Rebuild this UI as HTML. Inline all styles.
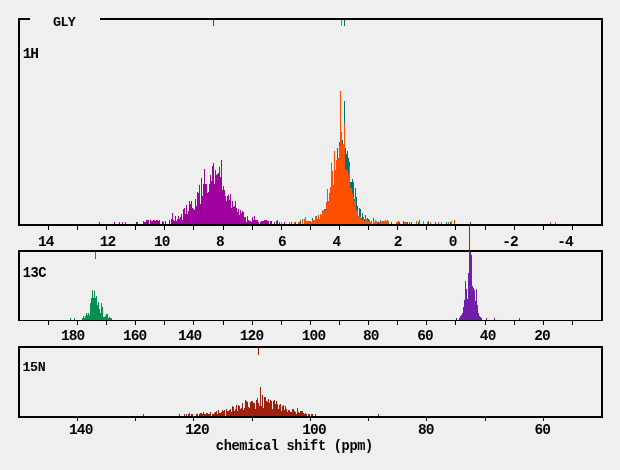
<!DOCTYPE html>
<html><head><meta charset="utf-8"><title>GLY chemical shifts</title>
<style>
html,body{margin:0;padding:0;background:#efefef;}
body{width:620px;height:470px;position:relative;overflow:hidden;}
.t{position:absolute;font-family:"Liberation Mono",monospace;font-weight:bold;line-height:16px;color:#000;white-space:pre;}
#txt{position:absolute;left:0;top:0;width:620px;height:470px;will-change:transform;}
</style></head><body>
<svg width="620" height="470" viewBox="0 0 620 470" shape-rendering="crispEdges" style="position:absolute;left:0;top:0"><path fill="#a000a0" d="M99 224v-2h1v2zM114 224v-2h1v2zM119 224v-2h1v2zM122 224v-2h1v2zM125 224v-2h1v2zM136 224v-2h1v2zM137 224v-2h1v2zM143 224v-3h1v3zM144 224v-2h1v2zM145 224v-2h1v2zM146 224v-4h1v4zM147 224v-4h1v4zM148 224v-4h1v4zM150 224v-4h1v4zM151 224v-3h1v3zM152 224v-3h1v3zM153 224v-4h1v4zM154 224v-4h1v4zM155 224v-3h1v3zM156 224v-4h1v4zM157 224v-4h1v4zM158 224v-3h1v3zM159 224v-4h1v4zM162 224v-3h1v3zM163 224v-2h1v2zM165 224v-3h1v3zM169 224v-4h1v4zM171 224v-5h1v5zM172 224v-11h1v11zM173 224v-4h1v4zM174 224v-3h1v3zM175 224v-8h1v8zM176 224v-3h1v3zM177 224v-5h1v5zM178 224v-8h1v8zM179 224v-5h1v5zM180 224v-7h1v7zM181 224v-10h1v10zM182 224v-4h1v4zM183 224v-15h1v15zM184 224v-16h1v16zM185 224v-10h1v10zM186 224v-19h1v19zM187 224v-10h1v10zM188 224v-13h1v13zM189 224v-23h1v23zM190 224v-20h1v20zM191 224v-23h1v23zM192 224v-16h1v16zM193 224v-15h1v15zM194 224v-14h1v14zM195 224v-25h1v25zM196 224v-18h1v18zM197 224v-32h1v32zM198 224v-31h1v31zM199 224v-39h1v39zM200 224v-20h1v20zM201 224v-46h1v46zM202 224v-28h1v28zM203 224v-40h1v40zM204 224v-55h1v55zM205 224v-40h1v40zM206 224v-40h1v40zM207 224v-31h1v31zM208 224v-32h1v32zM209 224v-40h1v40zM210 224v-49h1v49zM211 224v-43h1v43zM212 224v-58h1v58zM213 224v-61h1v61zM214 224v-40h1v40zM215 224v-54h1v54zM216 224v-49h1v49zM217 224v-50h1v50zM218 224v-51h1v51zM219 224v-57h1v57zM220 224v-47h1v47zM221 224v-64h1v64zM222 224v-34h1v34zM223 224v-38h1v38zM224 224v-34h1v34zM225 224v-28h1v28zM226 224v-23h1v23zM227 224v-28h1v28zM228 224v-29h1v29zM229 224v-24h1v24zM230 224v-30h1v30zM231 224v-16h1v16zM232 224v-23h1v23zM233 224v-17h1v17zM234 224v-18h1v18zM235 224v-23h1v23zM236 224v-16h1v16zM237 224v-12h1v12zM238 224v-15h1v15zM239 224v-9h1v9zM240 224v-14h1v14zM241 224v-11h1v11zM242 224v-13h1v13zM243 224v-12h1v12zM244 224v-7h1v7zM245 224v-7h1v7zM246 224v-2h1v2zM247 224v-8h1v8zM248 224v-4h1v4zM249 224v-3h1v3zM250 224v-3h1v3zM251 224v-2h1v2zM252 224v-7h1v7zM253 224v-4h1v4zM254 224v-8h1v8zM255 224v-4h1v4zM256 224v-4h1v4zM257 224v-4h1v4zM258 224v-2h1v2zM260 224v-2h1v2zM261 224v-3h1v3zM262 224v-3h1v3zM263 224v-3h1v3zM264 224v-4h1v4zM265 224v-4h1v4zM266 224v-4h1v4zM267 224v-3h1v3zM268 224v-3h1v3zM270 224v-3h1v3zM271 224v-3h1v3zM274 224v-2h1v2zM276 224v-3h1v3zM277 224v-4h1v4zM284 224v-2h1v2zM291 224v-2h1v2z"/><path fill="#007070" d="M276 224v-2h1v2zM279 224v-2h1v2zM295 224v-2h1v2zM300 224v-4h1v4zM312 224v-6h1v6zM316 224v-8h1v8zM324 224v-15h1v15zM325 224v-15h1v15zM337 224v-76h1v76zM339 224v-82h1v82zM342 224v-84h1v84zM344 224v-123h1v123zM345 224v-76h1v76zM346 224v-70h1v70zM347 224v-73h1v73zM348 224v-66h1v66zM349 224v-62h1v62zM350 224v-42h1v42zM351 224v-42h1v42zM352 224v-45h1v45zM353 224v-42h1v42zM354 224v-25h1v25zM355 224v-36h1v36zM356 224v-27h1v27zM357 224v-18h1v18zM358 224v-8h1v8zM359 224v-16h1v16zM360 224v-15h1v15zM361 224v-6h1v6zM362 224v-11h1v11zM363 224v-7h1v7zM364 224v-5h1v5zM365 224v-9h1v9zM367 224v-6h1v6zM368 224v-5h1v5zM369 224v-4h1v4zM371 224v-3h1v3zM373 224v-6h1v6zM378 224v-2h1v2zM380 224v-4h1v4zM382 224v-3h1v3zM391 224v-2h1v2zM398 224v-3h1v3zM399 224v-2h1v2zM403 224v-3h1v3zM404 224v-2h1v2zM407 224v-2h1v2zM409 224v-2h1v2zM411 224v-2h1v2zM418 224v-2h1v2zM419 224v-4h1v4zM428 224v-3h1v3zM435 224v-2h1v2zM446 224v-2h1v2zM450 224v-2h1v2zM470 224v-2h1v2z"/><path fill="#ff5000" d="M281 224v-2h1v2zM289 224v-2h1v2zM294 224v-2h1v2zM298 224v-2h1v2zM299 224v-2h1v2zM302 224v-5h1v5zM304 224v-5h1v5zM305 224v-7h1v7zM306 224v-3h1v3zM307 224v-3h1v3zM308 224v-3h1v3zM309 224v-3h1v3zM310 224v-3h1v3zM311 224v-2h1v2zM312 224v-4h1v4zM313 224v-4h1v4zM314 224v-4h1v4zM315 224v-8h1v8zM316 224v-7h1v7zM317 224v-5h1v5zM318 224v-9h1v9zM319 224v-5h1v5zM320 224v-10h1v10zM321 224v-9h1v9zM322 224v-14h1v14zM323 224v-13h1v13zM324 224v-13h1v13zM325 224v-14h1v14zM326 224v-22h1v22zM327 224v-35h1v35zM328 224v-23h1v23zM329 224v-31h1v31zM330 224v-37h1v37zM331 224v-61h1v61zM332 224v-53h1v53zM333 224v-39h1v39zM334 224v-73h1v73zM335 224v-54h1v54zM336 224v-64h1v64zM337 224v-65h1v65zM338 224v-66h1v66zM339 224v-78h1v78zM340 224v-133h1v133zM341 224v-92h1v92zM342 224v-80h1v80zM343 224v-80h1v80zM344 224v-101h1v101zM345 224v-55h1v55zM346 224v-54h1v54zM347 224v-54h1v54zM348 224v-50h1v50zM349 224v-58h1v58zM350 224v-36h1v36zM351 224v-36h1v36zM352 224v-31h1v31zM353 224v-27h1v27zM354 224v-23h1v23zM355 224v-26h1v26zM356 224v-14h1v14zM357 224v-13h1v13zM358 224v-7h1v7zM359 224v-8h1v8zM360 224v-8h1v8zM361 224v-5h1v5zM362 224v-4h1v4zM363 224v-6h1v6zM364 224v-3h1v3zM365 224v-6h1v6zM366 224v-5h1v5zM367 224v-4h1v4zM368 224v-3h1v3zM369 224v-3h1v3zM370 224v-2h1v2zM371 224v-2h1v2zM373 224v-3h1v3zM374 224v-2h1v2zM375 224v-4h1v4zM376 224v-3h1v3zM377 224v-2h1v2zM379 224v-2h1v2zM380 224v-2h1v2zM381 224v-2h1v2zM382 224v-2h1v2zM383 224v-3h1v3zM384 224v-3h1v3zM385 224v-4h1v4zM386 224v-3h1v3zM387 224v-4h1v4zM388 224v-3h1v3zM396 224v-2h1v2zM397 224v-2h1v2zM398 224v-2h1v2zM404 224v-2h1v2zM405 224v-2h1v2zM406 224v-2h1v2zM416 224v-3h1v3zM419 224v-2h1v2zM423 224v-3h1v3zM427 224v-2h1v2zM430 224v-2h1v2zM438 224v-2h1v2zM441 224v-2h1v2zM448 224v-2h1v2zM451 224v-3h1v3zM454 224v-4h1v4zM550 224v-2h1v2zM555 224v-2h1v2z"/><path fill="#009050" d="M70 320v-2h1v2zM74 320v-2h1v2zM82 320v-2h1v2zM83 320v-4h1v4zM84 320v-2h1v2zM85 320v-4h1v4zM86 320v-7h1v7zM87 320v-5h1v5zM88 320v-7h1v7zM89 320v-5h1v5zM90 320v-17h1v17zM91 320v-22h1v22zM92 320v-30h1v30zM93 320v-22h1v22zM94 320v-29h1v29zM95 320v-22h1v22zM96 320v-24h1v24zM97 320v-15h1v15zM98 320v-18h1v18zM99 320v-11h1v11zM100 320v-7h1v7zM101 320v-17h1v17zM102 320v-13h1v13zM103 320v-3h1v3zM104 320v-3h1v3zM105 320v-4h1v4zM106 320v-6h1v6zM107 320v-6h1v6zM108 320v-2h1v2zM109 320v-3h1v3zM110 320v-2h1v2zM111 320v-2h1v2z"/><path fill="#a02010" d="M143 416v-2h1v2zM179 416v-2h1v2zM184 416v-2h1v2zM186 416v-2h1v2zM188 416v-2h1v2zM189 416v-3h1v3zM191 416v-2h1v2zM192 416v-2h1v2zM196 416v-2h1v2zM197 416v-2h1v2zM199 416v-2h1v2zM200 416v-3h1v3zM201 416v-3h1v3zM202 416v-2h1v2zM203 416v-4h1v4zM204 416v-2h1v2zM205 416v-2h1v2zM206 416v-3h1v3zM207 416v-3h1v3zM208 416v-2h1v2zM209 416v-2h1v2zM210 416v-4h1v4zM212 416v-2h1v2zM213 416v-2h1v2zM214 416v-3h1v3zM215 416v-4h1v4zM216 416v-5h1v5zM217 416v-2h1v2zM218 416v-6h1v6zM219 416v-3h1v3zM220 416v-3h1v3zM221 416v-4h1v4zM222 416v-6h1v6zM223 416v-5h1v5zM224 416v-6h1v6zM226 416v-7h1v7zM227 416v-5h1v5zM228 416v-5h1v5zM229 416v-6h1v6zM230 416v-7h1v7zM231 416v-4h1v4zM232 416v-10h1v10zM233 416v-9h1v9zM234 416v-5h1v5zM235 416v-7h1v7zM236 416v-11h1v11zM237 416v-5h1v5zM238 416v-11h1v11zM239 416v-10h1v10zM240 416v-7h1v7zM241 416v-8h1v8zM242 416v-13h1v13zM243 416v-6h1v6zM244 416v-8h1v8zM245 416v-16h1v16zM246 416v-15h1v15zM247 416v-14h1v14zM248 416v-9h1v9zM249 416v-8h1v8zM250 416v-14h1v14zM251 416v-15h1v15zM252 416v-15h1v15zM253 416v-13h1v13zM254 416v-13h1v13zM255 416v-7h1v7zM256 416v-16h1v16zM257 416v-18h1v18zM258 416v-13h1v13zM259 416v-10h1v10zM260 416v-29h1v29zM261 416v-10h1v10zM262 416v-21h1v21zM263 416v-8h1v8zM264 416v-19h1v19zM265 416v-19h1v19zM266 416v-15h1v15zM267 416v-14h1v14zM268 416v-17h1v17zM269 416v-13h1v13zM270 416v-16h1v16zM271 416v-15h1v15zM272 416v-7h1v7zM273 416v-15h1v15zM274 416v-16h1v16zM275 416v-12h1v12zM276 416v-15h1v15zM277 416v-12h1v12zM278 416v-7h1v7zM279 416v-11h1v11zM280 416v-12h1v12zM281 416v-5h1v5zM282 416v-10h1v10zM283 416v-11h1v11zM284 416v-6h1v6zM285 416v-10h1v10zM286 416v-7h1v7zM287 416v-4h1v4zM288 416v-6h1v6zM289 416v-6h1v6zM290 416v-4h1v4zM291 416v-4h1v4zM292 416v-7h1v7zM293 416v-7h1v7zM294 416v-5h1v5zM295 416v-4h1v4zM296 416v-2h1v2zM297 416v-8h1v8zM298 416v-4h1v4zM299 416v-3h1v3zM300 416v-5h1v5zM301 416v-5h1v5zM302 416v-5h1v5zM303 416v-3h1v3zM304 416v-2h1v2zM305 416v-3h1v3zM306 416v-2h1v2zM308 416v-2h1v2zM309 416v-2h1v2zM311 416v-2h1v2zM312 416v-2h1v2zM315 416v-2h1v2zM378 416v-2h1v2z"/><path fill="#000" fill-rule="evenodd" d="M18 18h12v2h-10v204h581v-204h-501v-2h503v208h-585zM18 250h585v71h-585zM20 252v68h581v-68zM18 346h585v72h-585zM20 348v68h581v-68zM48 226h1v4h-1zM48 321h1v4h-1zM77 226h1v4h-1zM77 321h1v4h-1zM106 226h1v4h-1zM106 321h1v4h-1zM135 226h1v4h-1zM135 321h1v4h-1zM164 226h1v4h-1zM164 321h1v4h-1zM193 226h1v4h-1zM193 321h1v4h-1zM223 226h1v4h-1zM223 321h1v4h-1zM252 226h1v4h-1zM252 321h1v4h-1zM281 226h1v4h-1zM281 321h1v4h-1zM310 226h1v4h-1zM310 321h1v4h-1zM339 226h1v4h-1zM339 321h1v4h-1zM368 226h1v4h-1zM368 321h1v4h-1zM397 226h1v4h-1zM397 321h1v4h-1zM426 226h1v4h-1zM426 321h1v4h-1zM455 226h1v4h-1zM455 321h1v4h-1zM485 226h1v4h-1zM485 321h1v4h-1zM514 226h1v4h-1zM514 321h1v4h-1zM543 226h1v4h-1zM543 321h1v4h-1zM572 226h1v4h-1zM572 321h1v4h-1zM77 418h1v3h-1zM135 418h1v3h-1zM193 418h1v3h-1zM252 418h1v3h-1zM310 418h1v3h-1zM368 418h1v3h-1zM426 418h1v3h-1zM485 418h1v3h-1zM543 418h1v3h-1z"/><path fill="#7020a8" d="M456 320v-2h1v2zM459 320v-2h1v2zM460 320v-4h1v4zM461 320v-5h1v5zM462 320v-7h1v7zM463 320v-13h1v13zM464 320v-20h1v20zM465 320v-39h1v39zM466 320v-31h1v31zM467 320v-21h1v21zM468 320v-47h1v47zM469 320v-95h1v95zM470 320v-68h1v68zM471 320v-65h1v65zM472 320v-34h1v34zM473 320v-32h1v32zM474 320v-30h1v30zM475 320v-19h1v19zM476 320v-31h1v31zM477 320v-15h1v15zM478 320v-7h1v7zM479 320v-4h1v4zM480 320v-3h1v3zM481 320v-2h1v2zM486 320v-2h1v2zM494 320v-2h1v2zM519 320v-2h1v2z"/><rect x="213" y="20" width="1" height="6" fill="#a000a0"/><rect x="341" y="20" width="1" height="6" fill="#ff5000"/><rect x="344" y="20" width="1" height="6" fill="#007070"/><rect x="95" y="252" width="1" height="7" fill="#009050"/><rect x="258" y="348" width="1" height="7" fill="#a02010"/></svg>
<div id="txt"><span class="t" style="left:53.0px;top:15.33px;font-size:13.33px;letter-spacing:-0.6px">GLY</span><span class="t" style="left:22.7px;top:46.01px;font-size:14.5px;letter-spacing:-1.2px">1H</span><span class="t" style="left:22.8px;top:265.50px;font-size:13.8px;letter-spacing:-0.6px">13C</span><span class="t" style="left:22.5px;top:360.13px;font-size:13.33px;letter-spacing:-0.4px">15N</span><span class="t" style="left:37.9px;top:234.01px;font-size:14.5px;letter-spacing:-0.85px">14</span><span class="t" style="left:99.7px;top:234.01px;font-size:14.5px;letter-spacing:-0.85px">12</span><span class="t" style="left:153.9px;top:234.01px;font-size:14.5px;letter-spacing:-0.85px">10</span><span class="t" style="left:215.9px;top:234.01px;font-size:14.5px;letter-spacing:-0.85px">8</span><span class="t" style="left:277.9px;top:234.01px;font-size:14.5px;letter-spacing:-0.85px">6</span><span class="t" style="left:332.4px;top:234.01px;font-size:14.5px;letter-spacing:-0.85px">4</span><span class="t" style="left:393.7px;top:234.01px;font-size:14.5px;letter-spacing:-0.85px">2</span><span class="t" style="left:448.7px;top:234.01px;font-size:14.5px;letter-spacing:-0.85px">0</span><span class="t" style="left:502.2px;top:234.01px;font-size:14.5px;letter-spacing:-0.85px">-2</span><span class="t" style="left:557.2px;top:234.01px;font-size:14.5px;letter-spacing:-0.85px">-4</span><span class="t" style="left:60.9px;top:328.01px;font-size:14.5px;letter-spacing:-0.85px">180</span><span class="t" style="left:122.9px;top:328.01px;font-size:14.5px;letter-spacing:-0.85px">160</span><span class="t" style="left:177.9px;top:328.01px;font-size:14.5px;letter-spacing:-0.85px">140</span><span class="t" style="left:239.7px;top:328.01px;font-size:14.5px;letter-spacing:-0.85px">120</span><span class="t" style="left:301.7px;top:328.01px;font-size:14.5px;letter-spacing:-0.85px">100</span><span class="t" style="left:362.9px;top:328.01px;font-size:14.5px;letter-spacing:-0.85px">80</span><span class="t" style="left:417.2px;top:328.01px;font-size:14.5px;letter-spacing:-0.85px">60</span><span class="t" style="left:479.8px;top:328.01px;font-size:14.5px;letter-spacing:-0.85px">40</span><span class="t" style="left:534.2px;top:328.01px;font-size:14.5px;letter-spacing:-0.85px">20</span><span class="t" style="left:69.0px;top:422.01px;font-size:14.5px;letter-spacing:-0.85px">140</span><span class="t" style="left:185.2px;top:422.01px;font-size:14.5px;letter-spacing:-0.85px">120</span><span class="t" style="left:302.2px;top:422.01px;font-size:14.5px;letter-spacing:-0.85px">100</span><span class="t" style="left:417.9px;top:422.01px;font-size:14.5px;letter-spacing:-0.85px">80</span><span class="t" style="left:534.5px;top:422.01px;font-size:14.5px;letter-spacing:-0.85px">60</span><span class="t" style="left:215.8px;top:438.44px;font-size:13.6px;letter-spacing:-0.3px;transform:scaleY(1.07);transform-origin:0 0">chemical shift (ppm)</span></div>
</body></html>
